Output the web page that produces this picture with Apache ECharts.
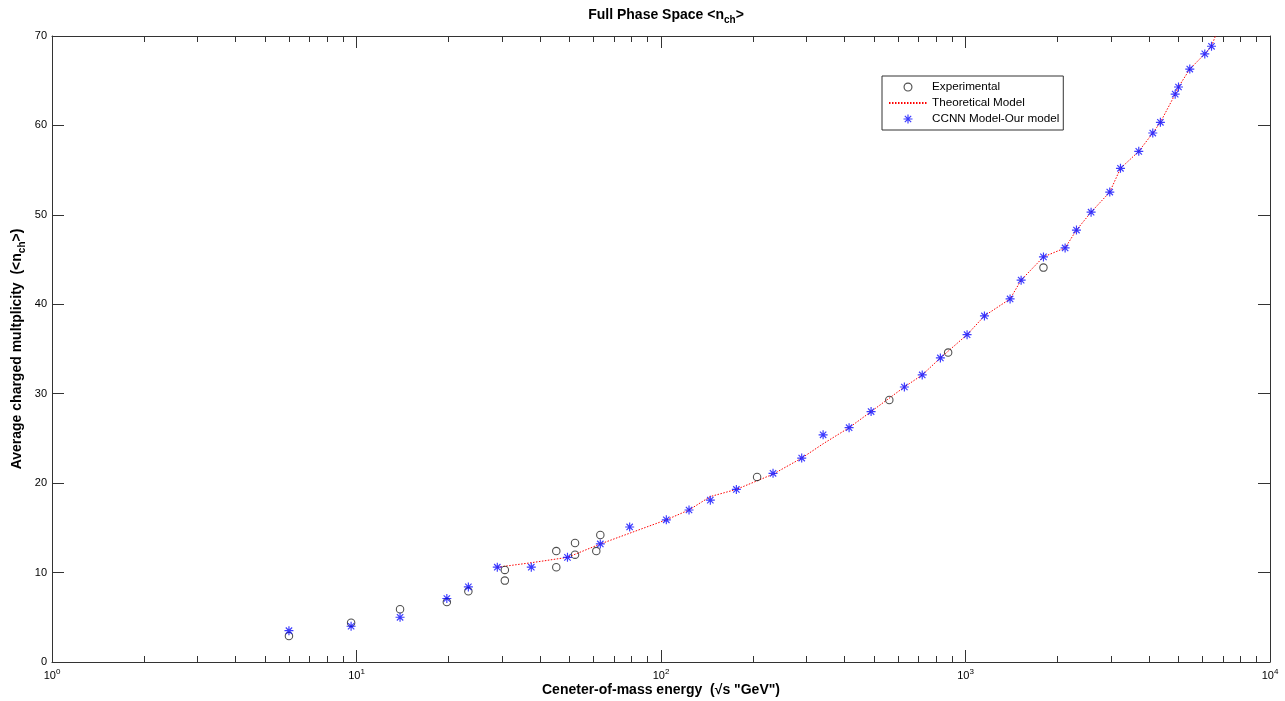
<!DOCTYPE html>
<html><head><meta charset="utf-8">
<script src="https://cdn.jsdelivr.net/npm/echarts@6/dist/echarts.min.js"></script>
<style>html,body{margin:0;padding:0;background:#fff}#c{width:1285px;height:701px}</style>
</head><body><div id="c"></div>
<script>
// Experimental data points
const expX = [6.0, 9.6, 13.9, 19.8, 23.3, 30.7, 30.7, 45.3, 45.3, 52.2, 52.2, 61.3, 63.2, 206.8, 562, 877, 1803];
const expY = [2.9, 4.4, 5.9, 6.7, 7.9, 10.3, 9.1, 12.4, 10.6, 13.3, 12.0, 12.4, 14.2, 20.7, 29.3, 34.6, 44.1];
// CCNN model points
const ccnnX = [6.0, 9.6, 13.9, 19.8, 23.3, 29.0, 37.5, 49.3, 63.2, 78.9, 104.1, 123.6, 145.2, 176.8, 233.3, 289.8, 340.7, 414.7, 489.7, 629.9, 720.9, 827, 1012, 1154, 1401, 1523, 1803, 2124, 2314, 2585, 2977, 3228, 3707, 4121, 4366, 4882, 5006, 5452, 6107, 6425];
const ccnnY = [3.5, 4.0, 5.0, 7.1, 8.4, 10.6, 10.6, 11.7, 13.2, 15.1, 15.9, 17.0, 18.1, 19.3, 21.1, 22.8, 25.4, 26.2, 28.0, 30.75, 32.1, 34.0, 36.6, 38.7, 40.6, 42.7, 45.3, 46.3, 48.3, 50.3, 52.55, 55.2, 57.1, 59.15, 60.35, 63.5, 64.3, 66.3, 68.0, 68.85];
// Theoretical model line
const theoX = [29.0, 37.5, 49.3, 63.2, 78.9, 104.1, 123.6, 145.2, 176.8, 233.3, 289.8, 340.7, 414.7, 489.7, 629.9, 720.9, 827, 1012, 1154, 1401, 1523, 1803, 2124, 2314, 2585, 2977, 3228, 3707, 4121, 4366, 4882, 5006, 5452, 6107, 6425, 6650];
const theoY = [10.6, 11.1, 11.7, 13.2, 14.4, 15.9, 17.0, 18.5, 19.3, 21.0, 22.8, 24.4, 26.2, 28.0, 30.75, 32.1, 34.0, 36.6, 38.7, 40.6, 42.7, 45.3, 46.3, 48.3, 50.3, 52.55, 55.2, 57.1, 59.15, 60.35, 63.5, 64.3, 66.3, 68.0, 68.85, 70.2];
// Minor ticks of the log x axis
const minorTickX = [];
[1, 10, 100, 1000].forEach(d => { for (let m = 2; m <= 9; m++) minorTickX.push(m * d); });

const star = 'path://M-0.13,-1L0.13,-1L0.13,1L-0.13,1Z M-1,-0.13L1,-0.13L1,0.13L-1,0.13Z M-0.799,-0.615L-0.615,-0.799L0.799,0.615L0.615,0.799Z M0.615,-0.799L0.799,-0.615L-0.615,0.799L-0.799,0.615Z';
const ring = 'path://M0,-1A1,1,0,1,1,0,1A1,1,0,1,1,0,-1Z M0,-0.75A0.75,0.75,0,1,0,0,0.75A0.75,0.75,0,1,0,0,-0.75Z';
const font = 'Liberation Sans, Arial, sans-serif';
const axisColor = '#333';

const chart = echarts.init(document.getElementById('c'), null, {renderer: 'canvas'});
const xBase = {
  type: 'log', logBase: 10, min: 1, max: 10000,
  axisLine: {show: true, onZero: false, lineStyle: {color: axisColor, width: 1}},
  axisTick: {show: true, inside: true, length: 12, lineStyle: {color: axisColor}},
  splitLine: {show: false}
};
const yBase = {
  type: 'value', min: 0, max: 70, interval: 10,
  axisLine: {show: true, lineStyle: {color: axisColor, width: 1}},
  axisTick: {show: true, inside: true, length: 12, lineStyle: {color: axisColor}},
  splitLine: {show: false}
};
chart.setOption({
  animation: false,
  backgroundColor: '#fff',
  title: {
    text: 'Full Phase Space <n{sub|ch}>',
    left: 661, top: 1, textAlign: 'center',
    textStyle: {fontFamily: font, fontSize: 14, fontWeight: 'bold', color: '#000', lineHeight: 19,
      rich: {sub: {fontFamily: font, fontSize: 10, fontWeight: 'bold', color: '#000', lineHeight: 10, verticalAlign: 'bottom'}}}
  },
  grid: {left: 52, right: 15, top: 36, bottom: 39, containLabel: false, outerBoundsMode: 'none'},
  legend: {
    data: [
      {name: 'Experimental', icon: ring, itemStyle: {borderWidth: 0}},
      {name: 'Theoretical Model', itemStyle: {opacity: 0}},
      {name: 'CCNN Model-Our model'}
    ],
    orient: 'vertical', left: 882, top: 76,
    backgroundColor: '#fff', borderColor: '#333', borderWidth: 1,
    padding: [5, 4, 5, 6], itemWidth: 38, itemHeight: 9, itemGap: 4,
    textStyle: {fontFamily: font, fontSize: 11.7, color: '#000'}
  },
  xAxis: [
    Object.assign({}, xBase, {
      position: 'bottom',
      name: 'Ceneter-of-mass energy  (√s "GeV")', nameLocation: 'middle', nameGap: 21, nameMoveOverlap: false,
      nameTextStyle: {fontFamily: font, fontSize: 14, fontWeight: 'bold', color: '#000'},
      axisLabel: {
        show: true, margin: 6, fontFamily: font, fontSize: 11, color: '#000', lineHeight: 16,
        formatter: v => '10{sup|' + Math.round(Math.log10(v)) + '}',
        rich: {sup: {fontFamily: font, fontSize: 8, color: '#000', lineHeight: 8, verticalAlign: 'top'}}
      }
    }),
    Object.assign({}, xBase, {position: 'top', axisLabel: {show: false}})
  ],
  yAxis: [
    Object.assign({}, yBase, {
      position: 'left',
      name: 'Average charged multplicity  (<n{sub|ch}>)', nameLocation: 'middle', nameGap: 25, nameRotate: 90, nameMoveOverlap: false,
      nameTextStyle: {fontFamily: font, fontSize: 14, fontWeight: 'bold', color: '#000', lineHeight: 19,
        rich: {sub: {fontFamily: font, fontSize: 10, fontWeight: 'bold', color: '#000', lineHeight: 10, verticalAlign: 'bottom'}}},
      axisLabel: {show: true, margin: 5, fontFamily: font, fontSize: 11, color: '#000'}
    }),
    Object.assign({}, yBase, {position: 'right', axisLabel: {show: false}})
  ],
  series: [
    {
      name: 'Theoretical Model', type: 'line', xAxisIndex: 0, yAxisIndex: 0, z: 2,
      data: theoX.map((x, i) => [x, theoY[i]]),
      symbol: 'none', showSymbol: false, smooth: false, clip: true,
      lineStyle: {color: '#ff0000', width: 1, type: [1.5, 1.5]},
      itemStyle: {color: '#ff0000'}
    },
    {
      name: 'Experimental', type: 'scatter', xAxisIndex: 0, yAxisIndex: 0, z: 3,
      data: expX.map((x, i) => [x, expY[i]]),
      symbol: ring, symbolSize: 8.5,
      itemStyle: {color: '#222', borderWidth: 0}
    },
    {
      name: 'CCNN Model-Our model', type: 'scatter', xAxisIndex: 0, yAxisIndex: 0, z: 4,
      data: ccnnX.map((x, i) => [x, ccnnY[i]]),
      symbol: star, symbolSize: 9,
      itemStyle: {color: '#0a0aff'}
    },
    {
      name: 'minorTicks', type: 'custom', xAxisIndex: 0, yAxisIndex: 0, silent: true, z: 1,
      data: minorTickX.map(v => [v, 0]),
      renderItem: function (params, api) {
        const x = api.value(0);
        const b = api.coord([x, 0]);
        const t = api.coord([x, 70]);
        const px = Math.round(b[0]) + 0.5;
        return {type: 'group', children: [
          {type: 'line', shape: {x1: px, y1: b[1], x2: px, y2: b[1] - 6}, style: {stroke: axisColor, lineWidth: 1}},
          {type: 'line', shape: {x1: px, y1: t[1], x2: px, y2: t[1] + 6}, style: {stroke: axisColor, lineWidth: 1}}
        ]};
      }
    }
  ]
});
</script>
</body></html>
